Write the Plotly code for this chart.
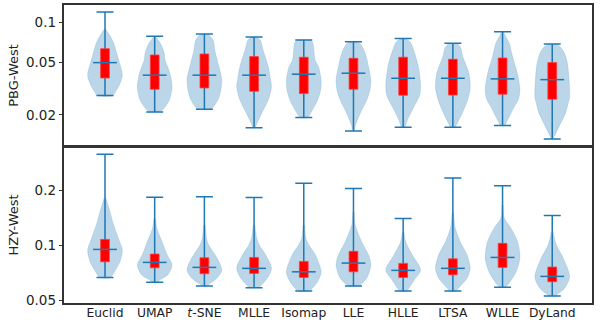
import plotly.graph_objects as go

categories = ["Euclid", "UMAP", "<i>t</i>-SNE", "MLLE", "Isomap", "LLE", "HLLE", "LTSA", "WLLE", "DyLand"]
positions = [1, 2, 3, 4, 5, 6, 7, 8, 9, 10]

# PBG-West (top panel)
pbg_min = [0.0280, 0.0210, 0.0221, 0.0160, 0.0191, 0.0151, 0.0161, 0.0161, 0.0166, 0.0131]
pbg_q1 = [0.0381, 0.0313, 0.0320, 0.0302, 0.0290, 0.0313, 0.0282, 0.0283, 0.0287, 0.0263]
pbg_median = [0.0498, 0.0400, 0.0400, 0.0400, 0.0407, 0.0414, 0.0379, 0.0379, 0.0375, 0.0370]
pbg_q3 = [0.0635, 0.0569, 0.0579, 0.0553, 0.0547, 0.0537, 0.0547, 0.0528, 0.0540, 0.0498]
pbg_max = [0.1205, 0.0789, 0.0821, 0.0779, 0.0740, 0.0718, 0.0757, 0.0698, 0.0855, 0.0690]

# density profile of each violin: value levels and relative half-widths
pbg_levels = [
    [0.0896, 0.0831, 0.0702, 0.0621, 0.0504, 0.0402, 0.0343, 0.0299, 0.0280],
    [0.0785, 0.0678, 0.0590, 0.0522, 0.0416, 0.0328, 0.0260, 0.0226, 0.0212],
    [0.0821, 0.0740, 0.0621, 0.0495, 0.0368, 0.0274, 0.0238, 0.0221],
    [0.0779, 0.0740, 0.0621, 0.0462, 0.0368, 0.0326, 0.0260, 0.0207, 0.0177, 0.0160],
    [0.0740, 0.0714, 0.0621, 0.0522, 0.0462, 0.0368, 0.0309, 0.0260, 0.0218, 0.0191],
    [0.0718, 0.0690, 0.0590, 0.0462, 0.0368, 0.0309, 0.0260, 0.0207, 0.0168, 0.0151],
    [0.0757, 0.0714, 0.0621, 0.0462, 0.0337, 0.0283, 0.0230, 0.0183, 0.0161],
    [0.0698, 0.0655, 0.0550, 0.0416, 0.0320, 0.0260, 0.0230, 0.0183, 0.0161],
    [0.0855, 0.0780, 0.0702, 0.0550, 0.0416, 0.0309, 0.0260, 0.0230, 0.0183, 0.0166],
    [0.0690, 0.0655, 0.0590, 0.0495, 0.0368, 0.0274, 0.0246, 0.0207, 0.0162, 0.0136, 0.0131],
]
pbg_widths = [
    [0.0, 0.2, 0.5, 0.62, 0.82, 1.0, 0.85, 0.6, 0.45],
    [0.05, 0.38, 0.55, 0.6, 0.87, 1.0, 0.85, 0.55, 0.3],
    [0.2, 0.5, 0.6, 0.78, 1.0, 0.85, 0.6, 0.35],
    [0.1, 0.35, 0.52, 0.82, 0.95, 1.0, 0.82, 0.45, 0.2, 0.05],
    [0.3, 0.5, 0.58, 0.65, 0.85, 1.0, 0.97, 0.8, 0.5, 0.2],
    [0.15, 0.4, 0.67, 0.87, 1.0, 0.95, 0.77, 0.4, 0.12, 0.03],
    [0.1, 0.4, 0.6, 0.88, 1.0, 0.95, 0.62, 0.25, 0.08],
    [0.2, 0.43, 0.58, 0.92, 1.0, 0.85, 0.7, 0.35, 0.1],
    [0.05, 0.2, 0.38, 0.58, 0.85, 1.0, 0.9, 0.67, 0.29, 0.1],
    [0.2, 0.47, 0.7, 0.87, 0.97, 1.0, 0.92, 0.77, 0.38, 0.1, 0.03],
]

# HZY-West (bottom panel)
hzy_min = [0.0665, 0.0627, 0.0597, 0.0584, 0.0560, 0.0597, 0.0560, 0.0560, 0.0587, 0.0526]
hzy_q1 = [0.0810, 0.0751, 0.0697, 0.0700, 0.0665, 0.0714, 0.0665, 0.0688, 0.0755, 0.0630]
hzy_median = [0.0947, 0.0804, 0.0755, 0.0746, 0.0714, 0.0797, 0.0727, 0.0746, 0.0856, 0.0674]
hzy_q3 = [0.1074, 0.0893, 0.0852, 0.0856, 0.0814, 0.0924, 0.0794, 0.0841, 0.1022, 0.0758]
hzy_max = [0.314, 0.183, 0.184, 0.182, 0.218, 0.204, 0.140, 0.233, 0.211, 0.145]

hzy_levels = [
    [0.181, 0.152, 0.129, 0.104, 0.0939, 0.0807, 0.0711, 0.0665],
    [0.140, 0.124, 0.104, 0.0882, 0.0777, 0.0685, 0.0643, 0.0627],
    [0.129, 0.109, 0.100, 0.0849, 0.0730, 0.0660, 0.0604, 0.0597],
    [0.129, 0.109, 0.100, 0.0882, 0.0748, 0.0660, 0.0590, 0.0584],
    [0.129, 0.109, 0.100, 0.0882, 0.0711, 0.0627, 0.0567, 0.0560],
    [0.152, 0.129, 0.104, 0.0882, 0.0777, 0.0660, 0.0604, 0.0597],
    [0.118, 0.104, 0.0882, 0.0730, 0.0643, 0.0567, 0.0560],
    [0.152, 0.124, 0.104, 0.0882, 0.0748, 0.0660, 0.0582, 0.0560],
    [0.166, 0.1405, 0.124, 0.104, 0.0849, 0.0711, 0.0604, 0.0587],
    [0.118, 0.100, 0.0849, 0.0668, 0.0582, 0.0533, 0.0526],
]
hzy_widths = [
    [0.05, 0.29, 0.5, 0.85, 1.0, 0.85, 0.53, 0.3],
    [0.05, 0.12, 0.43, 0.72, 1.0, 0.74, 0.28, 0.15],
    [0.05, 0.12, 0.25, 0.73, 1.0, 0.73, 0.2, 0.12],
    [0.05, 0.15, 0.3, 0.67, 1.0, 0.77, 0.3, 0.15],
    [0.05, 0.12, 0.3, 0.67, 1.0, 0.77, 0.38, 0.2],
    [0.04, 0.1, 0.48, 0.87, 1.0, 0.77, 0.38, 0.25],
    [0.05, 0.15, 0.53, 1.0, 0.63, 0.24, 0.15],
    [0.04, 0.14, 0.43, 0.82, 1.0, 0.82, 0.33, 0.15],
    [0.04, 0.1, 0.48, 0.87, 1.0, 0.77, 0.29, 0.15],
    [0.05, 0.24, 0.63, 1.0, 0.72, 0.24, 0.12],
]

VIOLIN_HALF = 0.35   # max half-width of a violin (category units)
BOX_HALF = 0.088     # half-width of the red quartile box
BLUE = "#1f77b4"
BODY = "rgba(31,119,180,0.3)"

fig = go.Figure()


def add_panel(xa, ya, vmin, q1, med, q3, vmax, levels, widths):
    # violin bodies
    for p, lv, wd in zip(positions, levels, widths):
        xs = [p + VIOLIN_HALF * w for w in wd] + [p - VIOLIN_HALF * w for w in reversed(wd)]
        ys = list(lv) + list(reversed(lv))
        fig.add_trace(go.Scatter(
            x=xs, y=ys, mode="lines", fill="toself", fillcolor=BODY,
            line=dict(color="rgba(31,119,180,0.15)", width=1, shape="spline", smoothing=0.8),
            xaxis=xa, yaxis=ya, hoverinfo="skip"))
    # whiskers with caps (min to max)
    fig.add_trace(go.Scatter(
        x=positions, y=med, mode="markers",
        marker=dict(size=1, color="rgba(0,0,0,0)"),
        error_y=dict(type="data", symmetric=False,
                     array=[mx - m for mx, m in zip(vmax, med)],
                     arrayminus=[m - mn for m, mn in zip(med, vmin)],
                     color=BLUE, thickness=1.5, width=8.5),
        xaxis=xa, yaxis=ya, hoverinfo="skip"))
    # red quartile boxes
    bx, by = [], []
    for p, a, b in zip(positions, q1, q3):
        bx += [p - BOX_HALF, p + BOX_HALF, p + BOX_HALF, p - BOX_HALF, p - BOX_HALF, None]
        by += [a, a, b, b, a, None]
    fig.add_trace(go.Scatter(
        x=bx, y=by, mode="lines", fill="toself", fillcolor="#ff0000",
        line=dict(color="rgba(255,60,60,0.8)", width=1),
        xaxis=xa, yaxis=ya, hoverinfo="skip"))
    # median lines
    fig.add_trace(go.Scatter(
        x=positions, y=med, mode="markers",
        marker=dict(symbol="line-ew", size=17, line=dict(color=BLUE, width=1.5)),
        xaxis=xa, yaxis=ya, hoverinfo="skip"))


add_panel("x", "y", pbg_min, pbg_q1, pbg_median, pbg_q3, pbg_max, pbg_levels, pbg_widths)
add_panel("x2", "y2", hzy_min, hzy_q1, hzy_median, hzy_q3, hzy_max, hzy_levels, hzy_widths)

frame = dict(showline=True, mirror=True, linecolor="#333333", linewidth=1.5, showgrid=False,
             zeroline=False, automargin=False)

fig.update_layout(
    template="none",
    width=603, height=322,
    margin=dict(l=64, r=11, t=5, b=19, pad=0),
    plot_bgcolor="white", paper_bgcolor="white",
    showlegend=False,
    font=dict(family="DejaVu Sans", color="#222222"),
    xaxis=dict(domain=[0, 1], anchor="y", range=[0.175, 10.8], showticklabels=False,
               ticks="", **frame),
    xaxis2=dict(domain=[0, 1], anchor="y2", range=[0.175, 10.8], tickmode="array",
                tickvals=positions, ticktext=categories, ticks="", ticklen=0,
                ticklabelstandoff=-3, tickfont=dict(size=12.3), **frame),
    yaxis=dict(domain=[0.5268, 1], anchor="x", type="log", range=[-1.935, -0.866],
               tickmode="array", tickvals=[0.02, 0.05, 0.1], ticktext=["0.02", "0.05", "0.1"],
               ticks="outside", ticklen=3.5, tickcolor="#333333", tickfont=dict(size=13.5),
               title=dict(text="PBG-West", font=dict(size=13), standoff=4), **frame),
    yaxis2=dict(domain=[0, 0.5235], anchor="x2", type="log", range=[-1.317, -0.463],
                tickmode="array", tickvals=[0.05, 0.1, 0.2], ticktext=["0.05", "0.1", "0.2"],
                ticks="outside", ticklen=3.5, tickcolor="#333333", tickfont=dict(size=13.5),
                title=dict(text="HZY-West", font=dict(size=13), standoff=4), **frame),
)

fig.write_html("out.html", config={"displayModeBar": False},
               post_script="document.body.style.margin='0';document.body.style.overflow='hidden';")
